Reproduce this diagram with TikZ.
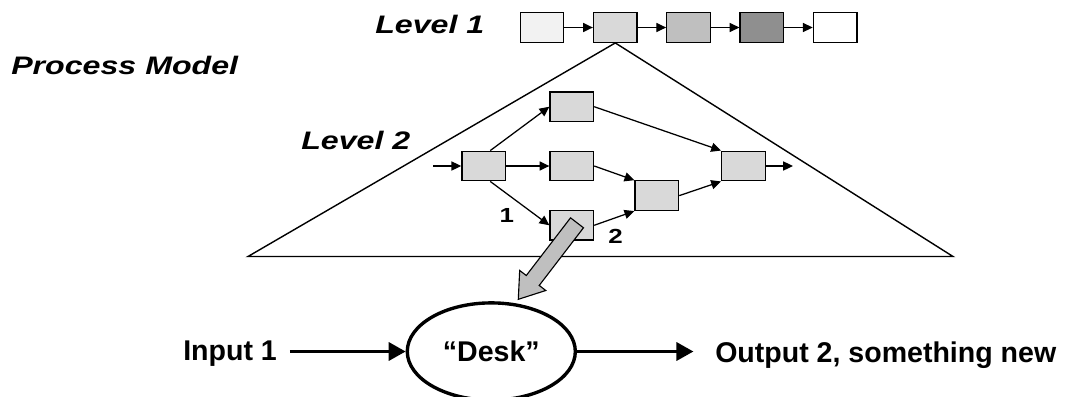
\documentclass[tikz,border=0pt]{standalone}
\usepackage{fontspec}
\setmainfont{Liberation Sans}
\newfontfamily\widesf{Liberation Sans}[FakeStretch=1.27]
\usetikzlibrary{positioning,arrows.meta,calc,shapes.geometric}

\begin{document}
\begin{tikzpicture}[
  x=0.025cm, y=-0.025cm,
  box/.style={draw,line width=0.9pt,minimum width=10.9mm,minimum height=7.4mm,inner sep=0pt},
  lbox/.style={box,fill=black!15},
  title/.style={font=\widesf\bfseries\itshape\fontsize{18}{20}\selectfont,inner sep=0pt},
  num/.style={font=\widesf\bfseries\fontsize{14.5}{16}\selectfont,inner sep=0pt},
  big/.style={font=\bfseries\fontsize{20.3}{22}\selectfont,inner sep=0pt},
  flow/.style={line width=0.9pt,-{Triangle[length=7pt,width=6.5pt]}},
  bigflow/.style={line width=1.8pt,-{Triangle[length=12pt,width=13pt]}},
  node distance=7.1mm,
]
  \useasboundingbox (0,0) rectangle (1067,396);

  \node[title,anchor=base west] (pm) at (11,74) {Process Model};
  \node[title,anchor=base west] (lvl1) at (375,33.3) {Level 1};
  \node[title,anchor=base west] (lvl2) at (301,149.3) {Level 2};

  % level 1 chain
  \node[box,fill=black!5] (p1) at (542,27.5) {};
  \node[box,fill=black!15,right=of p1] (p2) {};
  \node[box,fill=black!25,right=of p2] (p3) {};
  \node[box,fill=black!44,right=of p3] (p4) {};
  \node[box,fill=white,right=of p4] (p5) {};
  \foreach \a/\b in {p1/p2,p2/p3,p3/p4,p4/p5} { \draw[flow] (\a) -- (\b); }

  % level 2 net
  \node[lbox] (a) at (483.7,166) {};
  \node[lbox,right=10.8mm of a] (c) {};
  \node[lbox,above=of c] (b) {};
  \node[lbox,below=of c] (d) {};
  \node[lbox] (e) at ($(c)!0.5!(d)+(85,0)$) {};
  \node[lbox] (f) at (743.5,166) {};
  \coordinate (in) at (433,166);
  \coordinate (out) at (793,166);

  \draw[flow] (in) -- (a);
  \draw[flow] (a.67) -- (b.west);
  \draw[flow] (a) -- (c);
  \draw[flow] (a.-67) -- (d.west);
  \draw[flow] (b.east) -- (f.north west);
  \draw[flow] (c.east) -- (e.north west);
  \draw[flow] (d.east) -- (e.south west);
  \draw[flow] (e.east) -- (f.south west);
  \draw[flow] (f) -- (out);

  \node[num] (n1) at (506.7,215.8) {1};
  \node[num] (n2) at (615.5,236.2) {2};

  % refinement triangle
  \coordinate (tl) at (248,256.5);
  \coordinate (tr) at (953,256.5);
  \draw[line width=1pt] (tl) -- (p2.south) -- (tr) -- cycle;

  % desk
  \node[draw,ellipse,line width=2.4pt,minimum width=4.2cm,minimum height=2.43cm,big] (desk) at (491.3,351.5) {“Desk”};
  \node[big,anchor=base west] (input) at (183,360.5) {Input 1};
  \node[big,anchor=base west] (output) at (715,362.7) {Output 2, something new};
  \draw[bigflow,shorten <=9pt] (input.east |- desk.west) -- (desk.west);
  \draw[bigflow,shorten >=15.4pt] (desk.east) -- (output.west |- desk.east);

  % zoom arrow
  \coordinate (zt) at (577,222.8);
  \coordinate (zp) at (518.3,299.3);
  \coordinate (zb) at ($(zt)!0.754!(zp)$);
  \draw[line width=0.8pt,fill=black!25]
    ($(zt)!5.8pt!90:(zp)$) -- ($(zb)!5.8pt!90:(zp)$) -- ($(zb)!11.7pt!90:(zp)$)
    -- (zp) -- ($(zb)!11.7pt!-90:(zp)$) -- ($(zb)!5.8pt!-90:(zp)$)
    -- ($(zt)!5.8pt!-90:(zp)$) -- cycle;
\end{tikzpicture}
\end{document}
